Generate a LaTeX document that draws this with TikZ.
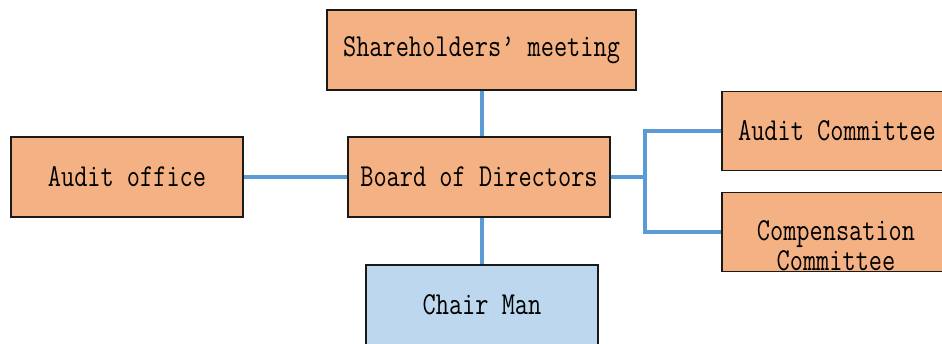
\documentclass[tikz,border=0pt]{standalone}
\usepackage{tikz}

\newcommand{\orgtext}[1]{\scalebox{0.8}[1]{#1}}

\begin{document}
\begin{tikzpicture}[x=1pt, y=1pt]
	\definecolor{cBoxFill}{HTML}{F4B183}
	\definecolor{cChairFill}{HTML}{BDD7EE}
	\definecolor{cLink}{HTML}{5B9BD5}
	\definecolor{cBorder}{HTML}{1A1A1A}

	\tikzset{
		orgbox/.style={draw=cBorder, line width=1.2, fill=cBoxFill, inner sep=0,
			minimum height=80, font=\ttfamily\fontsize{32}{30}\selectfont},
		orglink/.style={cLink, line width=4}
	}

	\clip (0,0) rectangle (942,343);
	\fill[white] (0,0) rectangle (942,343);

	\node[orgbox, minimum width=309] (share) at (481.5,293) {\orgtext{Shareholders’ meeting}};
	\node[orgbox, minimum width=262] (board) at (479,166) {\orgtext{Board of Directors}};
	\node[orgbox, minimum width=232] (office) at (127,166) {\orgtext{Audit office}};
	\node[orgbox, minimum width=232, fill=cChairFill] (chair) at (482,38) {\orgtext{Chair Man}};
	\node[orgbox, minimum width=230, minimum height=79] (auditcom) at (837,212) {\orgtext{Audit Committee}};
	\node[orgbox, minimum width=230, minimum height=79] (compcom) at (837,111) {};
	\node[font=\ttfamily\fontsize{32}{30}\selectfont, inner sep=0]
		(comptext) at (836,93) {\orgtext{\begin{tabular}{@{}c@{}}Compensation\\Committee\end{tabular}}};

	\coordinate (fork) at (645,166);

	\draw[orglink] (share.south) -- (board.north -| share.south);
	\draw[orglink] (board.south -| share.south) -- (chair.north -| share.south);
	\draw[orglink] (office) -- (board);
	\draw[orglink] (board) -- (fork);
	\draw[orglink] (auditcom.west) -| (fork);
	\draw[orglink] (compcom.west) -| (fork);
\end{tikzpicture}
\end{document}
